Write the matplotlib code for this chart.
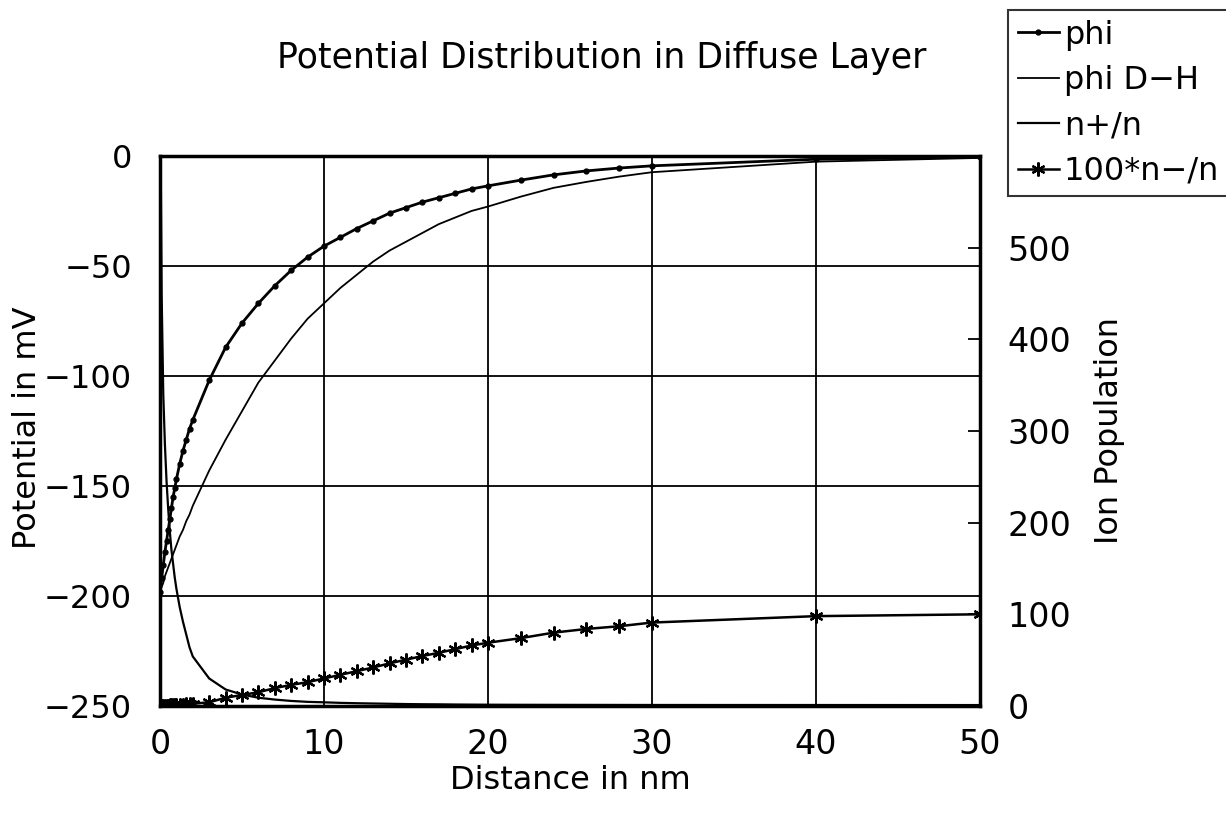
import matplotlib
matplotlib.use("Agg")
import matplotlib.pyplot as plt
from matplotlib.lines import Line2D

plt.rcParams['font.family'] = ['DejaVu Sans']

# distance in nm (shared x for all series)
distance = [0, 0.1, 0.2, 0.3, 0.4, 0.5, 0.6, 0.7, 0.8, 0.9, 1.0,
            1.2, 1.4, 1.6, 1.8, 2.0, 3, 4, 5, 6, 7, 8, 9, 10,
            11, 12, 13, 14, 15, 16, 17, 18, 19, 20,
            22, 24, 26, 28, 30, 40, 50]

# potential (mV)
phi = [-198, -192, -186, -180, -175, -170, -165, -160, -155, -151, -147,
       -140, -134, -129, -124, -120, -102, -87, -76, -67, -59, -52, -46, -41,
       -37, -33, -29.5, -26, -23.5, -21, -19, -17, -15, -13.6,
       -11, -8.6, -6.8, -5.5, -4.5, -1.5, -0.5]

phi_dh = [-198, -196, -194, -191, -189, -187, -185, -183, -181, -179, -177,
          -173, -170, -166, -163, -159, -143, -129, -116, -103, -93, -83, -74, -67,
          -60, -54, -48, -43, -39, -35, -31, -28, -25, -23,
          -18.5, -14.5, -11.8, -9.4, -7.4, -2.6, -0.9]

# ion population
n_plus = [700, 450, 340, 285, 245, 215, 190, 170, 155, 140, 128,
          108, 92, 78, 64, 54, 30, 18, 12.5, 9, 7, 5.5, 4.5, 4,
          3.4, 3, 2.7, 2.4, 2.1, 1.9, 1.8, 1.6, 1.5, 1.4,
          1.3, 1.25, 1.2, 1.15, 1.1, 1.05, 1.0]

n_minus_100 = [0, 0.1, 0.2, 0.3, 0.4, 0.5, 0.6, 0.7, 0.8, 0.9, 1.0,
               1.3, 1.6, 1.9, 2.2, 2.5, 4, 9, 12, 15, 19.5, 23, 26, 30,
               34, 38, 42, 46.5, 50.5, 54.5, 58, 62, 66, 69,
               74, 80, 84, 87, 91, 98, 100]

fig = plt.figure(figsize=(12.26, 8.19), dpi=100)
ax = fig.add_axes([0.1305, 0.138, 0.6688, 0.6716])
ax2 = ax.twinx()

ax.plot(distance, phi, color='black', lw=2.0, marker='o', ms=3.5, zorder=4)
ax.plot(distance, phi_dh, color='black', lw=1.3, zorder=4)
ax2.plot(distance, n_plus, color='black', lw=1.6, zorder=4)
ax2.plot(distance, n_minus_100, color='black', lw=1.8, marker=(6, 2, 0),
         ms=10, mew=1.6, zorder=4)

ax.set_xlim(0, 50)
ax.set_ylim(-250, 0)
ax2.set_ylim(0, 600)
ax.set_xticks(range(0, 51, 10))
ax.set_yticks(range(-250, 1, 50))
ax2.set_yticks(range(0, 501, 100))

ax.grid(True, color='black', lw=1.3)
ax.set_axisbelow(True)
ax.tick_params(axis='y', length=0, labelsize=23, pad=20)
ax.tick_params(axis='x', length=0, labelsize=24, pad=16)
ax2.tick_params(axis='y', direction='in', length=9, width=1.3,
                labelsize=24, pad=20)

for sp in ax.spines.values():
    sp.set_linewidth(2.5)
for sp in ax2.spines.values():
    sp.set_linewidth(2.0)

ax.set_xlabel('Distance in nm', fontsize=23)
ax.xaxis.set_label_coords(0.5, -0.108)
ax.set_ylabel('Potential in mV', fontsize=23)
ax.yaxis.set_label_coords(-0.143, 0.505)
ax2.set_ylabel('Ion Population', fontsize=23, labelpad=16)

fig.text(0.491, 0.929, 'Potential Distribution in Diffuse Layer',
         ha='center', va='center', fontsize=25)

handles = [
    Line2D([], [], color='black', lw=2.0, marker='o', ms=3.5),
    Line2D([], [], color='black', lw=1.3),
    Line2D([], [], color='black', lw=1.6),
    Line2D([], [], color='black', lw=1.8, marker=(6, 2, 0), ms=10, mew=1.6),
]
labels = ['phi', 'phi D\u2212H', 'n+/n', '100*n\u2212/n']
leg = fig.legend(handles, labels, loc='upper left',
                 bbox_to_anchor=(1008 / 1226, 1 - 10 / 819),
                 fontsize=23, frameon=True, fancybox=False,
                 edgecolor='black', handlelength=1.3, handletextpad=0.15,
                 borderpad=0.3, labelspacing=0.45, borderaxespad=0)
leg.get_frame().set_linewidth(1.5)

fig.savefig('out.png', dpi=100)
